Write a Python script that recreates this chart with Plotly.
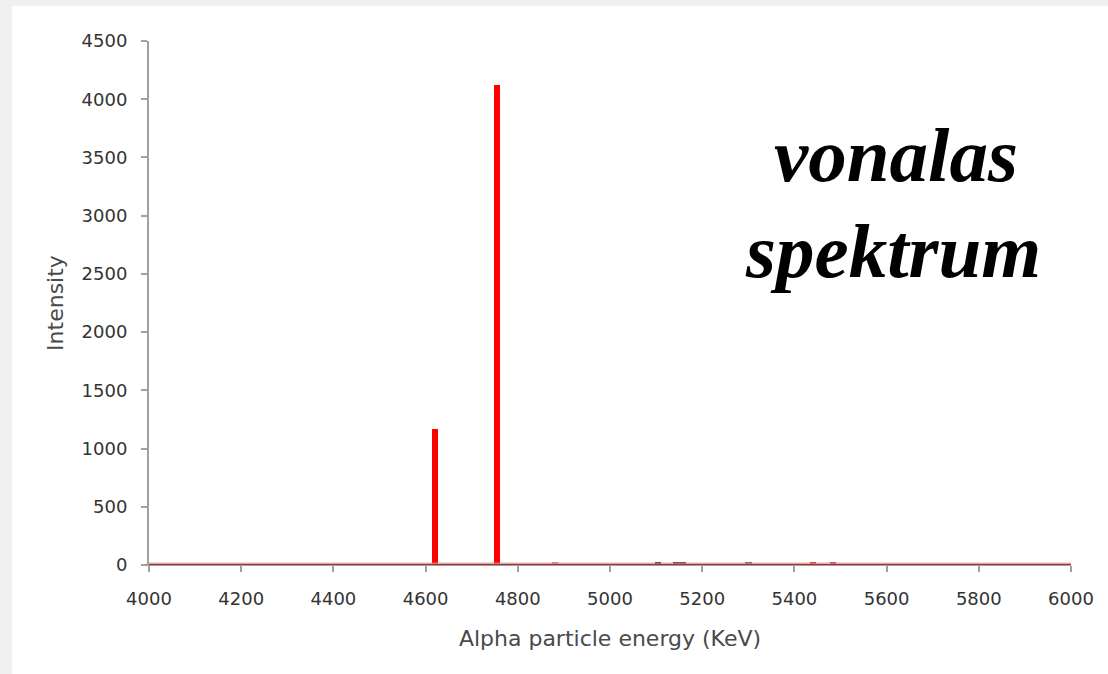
import plotly.graph_objects as go

# Main alpha lines (energy in keV, intensity)
main_energy = [4620, 4755]
main_intensity = [1170, 4120]

# Tiny lines barely above baseline
minor_energy = [4881, 5104, 5144, 5157, 5300, 5440, 5484]
minor_intensity = [30, 28, 30, 30, 28, 30, 30]
minor_colors = ["#e060c0", "#202020", "#402020", "#403030", "#604090", "#e02020", "#e02020"]

baseline_x = [4000, 6000]
baseline_y = [0, 0]

x_ticks = [4000, 4200, 4400, 4600, 4800, 5000, 5200, 5400, 5600, 5800, 6000]
y_ticks = [0, 500, 1000, 1500, 2000, 2500, 3000, 3500, 4000, 4500]

label_line1 = "vonalas"
label_line2 = "spektrum"

fig = go.Figure()

fig.add_trace(go.Bar(x=minor_energy, y=minor_intensity, width=14,
                     marker=dict(color=minor_colors, line=dict(width=0)),
                     showlegend=False))
fig.add_trace(go.Bar(x=main_energy, y=main_intensity, width=13,
                     marker=dict(color="#ff0000", line=dict(width=0)),
                     showlegend=False))

# baseline halo + core
fig.add_trace(go.Scatter(x=baseline_x, y=baseline_y, mode="lines",
                         line=dict(color="rgba(225,140,140,0.75)", width=5),
                         hoverinfo="skip", showlegend=False, cliponaxis=False))
fig.add_trace(go.Scatter(x=baseline_x, y=baseline_y, mode="lines",
                         line=dict(color="#9a3030", width=2),
                         hoverinfo="skip", showlegend=False, cliponaxis=False))

tickfont = dict(family="DejaVu Sans", size=18, color="#333333")
titlefont = dict(family="DejaVu Sans", size=22, color="#4a4a4a")

fig.update_layout(
    width=1108, height=674,
    margin=dict(l=149, r=37, t=41, b=109),
    paper_bgcolor="#f0f0f0",
    plot_bgcolor="rgba(0,0,0,0)",
    bargap=0,
    barmode="overlay",
    shapes=[dict(type="rect", xref="paper", yref="paper",
                 x0=(12 - 149) / 922, x1=(1108 - 149) / 922,
                 y0=(565 - 680) / 524, y1=(565 - 6) / 524,
                 fillcolor="white", line=dict(width=0), layer="below")],
    xaxis=dict(range=[4000, 6000], tickvals=x_ticks, ticktext=[str(v) for v in x_ticks],
               showgrid=False, zeroline=False, showline=True, linecolor="#a0a0a0",
               linewidth=1, ticks="outside", ticklen=6, tickcolor="#a0a0a0",
               tickwidth=2, tickfont=tickfont, ticklabelstandoff=11,
               title=dict(text="Alpha particle energy (KeV)", font=titlefont, standoff=23)),
    yaxis=dict(range=[0, 4500], tickvals=y_ticks, ticktext=[str(v) for v in y_ticks],
               showgrid=False, zeroline=False, showline=True, linecolor="#a0a0a0",
               linewidth=2, ticks="outside", ticklen=6, tickcolor="#a0a0a0",
               tickwidth=2, tickfont=tickfont, ticklabelstandoff=10,
               title=dict(text="Intensity", font=titlefont, standoff=12)),
    annotations=[
        dict(text="<b><i>" + label_line1 + "</i></b>", xref="paper", yref="paper",
             x=(896 - 149) / 922, y=(565 - 155) / 524, xanchor="center", yanchor="middle",
             showarrow=False, font=dict(family="Liberation Serif", size=77, color="black")),
        dict(text="<b><i>" + label_line2 + "</i></b>", xref="paper", yref="paper",
             x=(893 - 149) / 922, y=(565 - 251) / 524, xanchor="center", yanchor="middle",
             showarrow=False, font=dict(family="Liberation Serif", size=77, color="black")),
    ],
)

fig.write_html("out.html")
